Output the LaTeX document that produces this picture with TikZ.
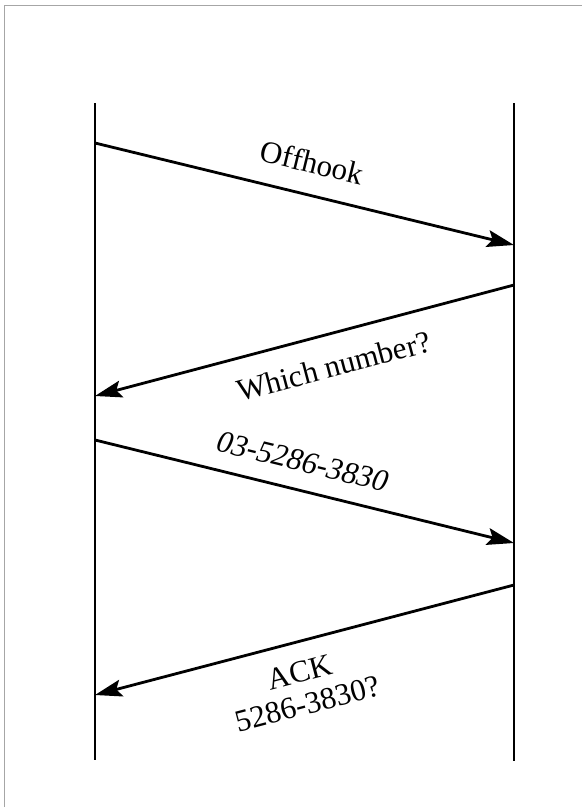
\documentclass[tikz,border=0pt]{standalone}
\usepackage{fontspec}
\setmainfont{Liberation Serif}
\usepackage{tikz}
\usetikzlibrary{arrows.meta}

\begin{document}
\begin{tikzpicture}[
    x=1pt, y=-1pt,
    lifeline/.style={line width=2.2pt},
    msg/.style={line width=2.8pt, -{Stealth[length=27pt, width=17pt, inset=5pt]}},
    lbl/.style={font=\fontsize{31}{33}\selectfont, align=center, sloped, inner sep=0pt},
    frameline/.style={gray!70, line width=1pt},
]
\useasboundingbox (0,0) rectangle (582,812);

% --- frame (only top and left edges show) ---
\coordinate (fbl) at (4,807);
\coordinate (ftl) at (4,5);
\coordinate (ftr) at (582,5);
\draw[frameline] (fbl) -- (ftl) -- (ftr);

% --- lifelines ---
\coordinate (ltop) at (95,103);
\coordinate (lbot) at (95,760);
\coordinate (rtop) at (514,103);
\coordinate (rbot) at (514,761);
\draw[lifeline] (ltop) -- (lbot);
\draw[lifeline] (rtop) -- (rbot);

% --- message end points ---
\coordinate (l1) at (95,143);
\coordinate (r1) at (514,245);
\coordinate (r2) at (514,285);
\coordinate (l2) at (95,396);
\coordinate (l3) at (95,440);
\coordinate (r3) at (514,543);
\coordinate (r4) at (514,585);
\coordinate (l4) at (95,695);

% --- messages ---
\draw[msg] (l1) -- node[lbl, above=20pt, pos=0.5] (offhook) {Offhook} (r1);
\draw[msg] (r2) -- node[lbl, below=20pt, pos=0.45] (which) {Which number?} (l2);
\draw[msg] (l3) -- node[lbl, above=17pt, pos=0.48] (dial) {\itshape 03-5286-3830} (r3);
\draw[msg] (r4) -- node[lbl, below=18pt, pos=0.53] (ack) {ACK\\5286-3830?} (l4);

\end{tikzpicture}
\end{document}
